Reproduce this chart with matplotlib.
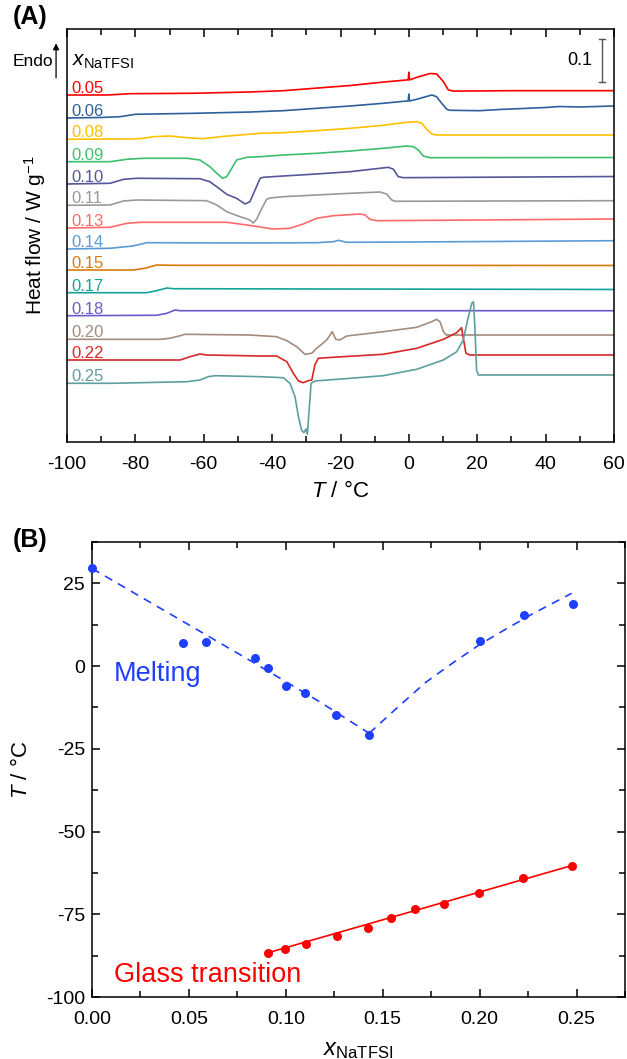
import matplotlib
matplotlib.use('Agg')
import matplotlib.pyplot as plt
from matplotlib.ticker import MultipleLocator

plt.rcParams['font.family'] = ['Liberation Sans', 'DejaVu Sans']
plt.rcParams['mathtext.fontset'] = 'custom'
plt.rcParams['mathtext.rm'] = 'Liberation Sans'
plt.rcParams['mathtext.it'] = 'Liberation Sans:italic'
plt.rcParams['mathtext.bf'] = 'Liberation Sans:bold'
plt.rcParams['axes.unicode_minus'] = False

# ---------------- Panel A: DSC traces (T in °C, heat flow in W/g, offset) ----------------
compositions = ['0.05', '0.06', '0.08', '0.09', '0.10', '0.11', '0.13',
                '0.14', '0.15', '0.17', '0.18', '0.20', '0.22', '0.25']
trace_colors = ['#ff0000', '#2e6099', '#ffc000', '#3dbf6e', '#56569a', '#999999', '#ff6b6b',
                '#5b9bd5', '#d97a0c', '#14a39b', '#6a5acd', '#a38b7d', '#d62828', '#5f9e9e']

T_005 = [-100, -88, -81.6, -63, -46.5, -36.7, -27, -17.2, -7.5, -0.6, -0.2, 0, 0.2, 2.3, 6.2, 8.1, 10.1, 11.5, 13, 30, 60]
H_005 = [0.807, 0.807, 0.810, 0.811, 0.814, 0.817, 0.823, 0.829, 0.837, 0.842, 0.842, 0.860, 0.842, 0.848, 0.857, 0.856, 0.838, 0.819, 0.816, 0.817, 0.817]

T_006 = [-100, -90, -84.5, -80, -63, -46.5, -36.7, -27, -17.2, -7.5, -0.6, -0.2, 0, 0.2, 2.3, 6.7, 8.1, 9.6, 11.1, 12, 20.8, 26.6, 40, 44, 50, 60]
H_006 = [0.7535, 0.7547, 0.7565, 0.7621, 0.7644, 0.7674, 0.7705, 0.7760, 0.7814, 0.7877, 0.7930, 0.7930, 0.8093, 0.7930, 0.7970, 0.8070, 0.8030, 0.7877, 0.7737, 0.7714, 0.7705, 0.7733, 0.7779, 0.7802, 0.7791, 0.7814]

T_008 = [-100, -80.7, -77.7, -74.8, -69.9, -64.9, -60.2, -55.2, -43.5, -36.7, -27, -17.2, -7.5, -0.6, 2.3, 3.8, 5.2, 6.7, 8.1, 60]
H_008 = [0.7040, 0.7047, 0.7063, 0.7100, 0.7116, 0.7077, 0.7053, 0.7100, 0.7179, 0.7193, 0.7240, 0.7295, 0.7365, 0.7435, 0.7449, 0.7412, 0.7272, 0.7163, 0.7140, 0.7140]

T_009 = [-100, -87.4, -82.5, -77.7, -65, -61.1, -58.2, -56.2, -54.5, -53.3, -51.8, -50.4, -47.4, -43.5, -36.7, -27, -17.2, -7.5, -0.6, 1.3, 2.8, 4.2, 6.2, 60]
H_009 = [0.6519, 0.6519, 0.6574, 0.6598, 0.6598, 0.6558, 0.6402, 0.6249, 0.6133, 0.6170, 0.6365, 0.6558, 0.6621, 0.6635, 0.6674, 0.6714, 0.6767, 0.6830, 0.6884, 0.6867, 0.6791, 0.6651, 0.6612, 0.6616]

T_010 = [-100, -87.4, -83.5, -79.6, -61.1, -58.2, -55.2, -53.3, -50.4, -47.9, -46.5, -45, -43.5, -42.6, -36.7, -27, -17.2, -6, -4.5, -3.1, -1.6, 60]
H_010 = [0.6000, 0.6016, 0.6109, 0.6133, 0.6123, 0.6053, 0.5877, 0.5760, 0.5667, 0.5535, 0.5588, 0.5860, 0.6133, 0.6156, 0.6186, 0.6233, 0.6286, 0.6388, 0.6342, 0.6170, 0.6147, 0.6174]

T_011 = [-100, -87.4, -83.5, -79.6, -59.2, -56.2, -53.3, -49.4, -46.5, -45.5, -44.5, -43, -41.6, -40.6, -36.7, -27, -17.2, -8.5, -6.5, -5, -4.1, 60]
H_011 = [0.5505, 0.5512, 0.5605, 0.5628, 0.5612, 0.5512, 0.5356, 0.5240, 0.5163, 0.5093, 0.5186, 0.5435, 0.5644, 0.5674, 0.5705, 0.5744, 0.5784, 0.5814, 0.5767, 0.5628, 0.5598, 0.5612]

T_013 = [-100, -87.4, -82.5, -78.5, -53.3, -47.4, -43.5, -39.7, -34.8, -30.9, -27, -22.1, -14.3, -12.8, -11.4, -9.4, 0, 60]
H_013 = [0.4977, 0.4993, 0.5086, 0.5109, 0.5109, 0.5047, 0.5000, 0.4953, 0.4970, 0.5070, 0.5202, 0.5263, 0.5302, 0.5279, 0.5179, 0.5147, 0.5151, 0.5186]

T_014 = [-100, -87.4, -80.7, -76.7, -46.5, -27, -22.1, -20.6, -18.2, 0, 60]
H_014 = [0.4488, 0.4505, 0.4558, 0.4635, 0.4628, 0.4635, 0.4658, 0.4691, 0.4644, 0.4651, 0.4681]

T_015 = [-100, -80.6, -77.2, -73.8, -68.9, 60]
H_015 = [0.4000, 0.4000, 0.4040, 0.4116, 0.4109, 0.4105]

T_017 = [-100, -76.7, -73.8, -70.8, -68.9, -20, 60]
H_017 = [0.3472, 0.3472, 0.3519, 0.3581, 0.3565, 0.3558, 0.3547]

T_018 = [-100, -73.8, -70.8, -68.4, -66.9, 60]
H_018 = [0.2937, 0.2947, 0.2993, 0.3070, 0.3053, 0.3053]

T_020 = [-100, -72.8, -69.9, -66.9, -65.5, -46.5, -38.7, -35.7, -32.8, -30.4, -28.4, -27, -25.5, -23.9, -22.4, -21.4, -20.2, -18.2, -7.5, 2.3, 6.7, 8.1, 9.1, 10.1, 11, 60]
H_020 = [0.2388, 0.2388, 0.2412, 0.2472, 0.2505, 0.2488, 0.2449, 0.2356, 0.2216, 0.2040, 0.2063, 0.2179, 0.2272, 0.2388, 0.2565, 0.2388, 0.2372, 0.2465, 0.2565, 0.2667, 0.2798, 0.2853, 0.2798, 0.2565, 0.2488, 0.2488]

T_022 = [-100, -66.9, -64, -61.1, -59.2, -43.5, -38.7, -35.7, -33.8, -32.3, -30.9, -29.4, -28.4, -27.5, -26.5, -22.1, -7.5, 2.3, 10.1, 14, 15.4, 16.1, 16.7, 17.9, 60]
H_022 = [0.1907, 0.1907, 0.1984, 0.2047, 0.2023, 0.2000, 0.2000, 0.1867, 0.1598, 0.1419, 0.1379, 0.1426, 0.1442, 0.1791, 0.1947, 0.1970, 0.2040, 0.2179, 0.2388, 0.2542, 0.2658, 0.2333, 0.2063, 0.2023, 0.2023]

T_025 = [-100, -87, -65, -61.1, -58.7, -56.7, -43.5, -36.7, -34.8, -33.3, -32.3, -31.4, -30.7, -30.1, -29.7, -29.1, -28.6, -27.5, -17.2, -7.5, 2.3, 10.1, 14, 15.9, 17.4, 18.4, 18.9, 19.3, 19.8, 20.3, 60]
H_025 = [0.1365, 0.1365, 0.1402, 0.1442, 0.1519, 0.1542, 0.1519, 0.1495, 0.1365, 0.1053, 0.0588, 0.0279, 0.0216, 0.0302, 0.0179, 0.0821, 0.1365, 0.1419, 0.1481, 0.1542, 0.1691, 0.1907, 0.2100, 0.2372, 0.2914, 0.3226, 0.3263, 0.2681, 0.1674, 0.1558, 0.1558]

traces_T = [T_005, T_006, T_008, T_009, T_010, T_011, T_013, T_014, T_015, T_017, T_018, T_020, T_022, T_025]
traces_H = [H_005, H_006, H_008, H_009, H_010, H_011, H_013, H_014, H_015, H_017, H_018, H_020, H_022, H_025]

scale_bar_value = 0.1  # W/g

# ---------------- Panel B: phase diagram ----------------
x_melt = [0.0, 0.047, 0.0587, 0.084, 0.091, 0.100, 0.110, 0.126, 0.143, 0.200, 0.223, 0.248]
T_melt = [29.5, 7.1, 7.2, 2.3, -0.5, -6.1, -8.2, -14.8, -20.8, 7.7, 15.3, 18.8]

x_melt_guide_left = [0.0, 0.083, 0.1175, 0.143]
T_melt_guide_left = [29.5, 1.2, -10.8, -20.3]
x_melt_guide_right = [0.143, 0.158, 0.172, 0.186, 0.200, 0.213, 0.227, 0.2475]
T_melt_guide_right = [-20.3, -12.3, -5.0, 0.9, 6.5, 11.0, 15.7, 22.0]

x_glass = [0.091, 0.0996, 0.1103, 0.1262, 0.1424, 0.1541, 0.1669, 0.1817, 0.1995, 0.2224, 0.2476]
T_glass = [-86.8, -85.5, -84.0, -81.7, -79.1, -76.2, -73.4, -71.9, -68.6, -64.1, -60.4]
x_glass_fit = [0.091, 0.248]
T_glass_fit = [-86.6, -60.2]

melt_color = '#1f3fff'
glass_color = '#ff0000'

fig = plt.figure(figsize=(6.27, 10.59), dpi=100)

# ---- Panel A ----
axA = fig.add_axes([67 / 627, 1 - 442 / 1059, 547 / 627, 413 / 1059])
for T, H, lab, c in zip(traces_T, traces_H, compositions, trace_colors):
    axA.plot(T, H, color=c, lw=1.2, solid_joinstyle='round')
    axA.text(-98.6, H[0] + 0.005, lab, color=c, fontsize=12, ha='left', va='baseline')

axA.set_xlim(-100, 60)
axA.set_ylim(0, 413 / 430)
axA.xaxis.set_major_locator(MultipleLocator(20))
axA.xaxis.set_minor_locator(MultipleLocator(10))
axA.set_yticks([])
axA.tick_params(axis='x', which='both', direction='in', top=True, bottom=True,
                labelsize=14, width=1.1, pad=10)
axA.tick_params(axis='x', which='major', length=6)
axA.tick_params(axis='x', which='minor', length=4)
for s in axA.spines.values():
    s.set_linewidth(1.1)
axA.set_xlabel(r'$T$ / °C', fontsize=16, labelpad=6)
axA.set_ylabel(r'Heat flow / W g$^{-1}$', fontsize=15, labelpad=14)

# scale bar
sb_T = 56.4
sb_y0 = 0.837
axA.plot([sb_T, sb_T], [sb_y0, sb_y0 + scale_bar_value], color='#555555', lw=1.0)
axA.plot([sb_T - 0.9, sb_T + 0.9], [sb_y0, sb_y0], color='#555555', lw=1.0)
axA.plot([sb_T - 0.9, sb_T + 0.9], [sb_y0 + scale_bar_value, sb_y0 + scale_bar_value], color='#555555', lw=1.0)
axA.text(sb_T - 2.7, sb_y0 + scale_bar_value / 2, '0.1', fontsize=13, ha='right', va='center')

# header and endo arrow
axA.text(0.009, 0.921, r'$x_{\mathrm{NaTFSI}}$', transform=axA.transAxes, fontsize=15,
         ha='left', va='center')
axA.annotate('', xy=(-0.020, 0.972), xytext=(-0.020, 0.875), xycoords='axes fraction',
             textcoords='axes fraction',
             arrowprops=dict(arrowstyle='-|>', color='black', lw=0.9, mutation_scale=9),
             annotation_clip=False)
axA.text(-0.026, 0.921, 'Endo', transform=axA.transAxes, fontsize=12.5, ha='right', va='center')

fig.text(13 / 627, 1 - 5 / 1059, '(A)', fontsize=18, fontweight='bold', ha='left', va='top')

# ---- Panel B ----
axB = fig.add_axes([92 / 627, 1 - 997 / 1059, 533 / 627, 455 / 1059])
axB.plot(x_melt_guide_left, T_melt_guide_left, ls=(0, (5, 4)), color=melt_color, lw=1.2)
axB.plot(x_melt_guide_right, T_melt_guide_right, ls=(0, (5, 4)), color=melt_color, lw=1.2)
axB.plot(x_melt, T_melt, 'o', color=melt_color, ms=6.5, mec='none', clip_on=False, zorder=5)
axB.plot(x_glass_fit, T_glass_fit, '-', color=glass_color, lw=1.2)
axB.plot(x_glass, T_glass, 'o', color=glass_color, ms=6.5, mec='none', zorder=5)

axB.set_xlim(0, 0.275)
axB.set_ylim(-100, 37.5)
axB.xaxis.set_major_locator(MultipleLocator(0.05))
axB.xaxis.set_minor_locator(MultipleLocator(0.025))
axB.yaxis.set_major_locator(MultipleLocator(25))
axB.yaxis.set_minor_locator(MultipleLocator(12.5))
axB.xaxis.set_major_formatter(plt.FuncFormatter(lambda v, p: f'{v:.2f}'))
axB.tick_params(axis='both', which='both', direction='in', top=True, right=True,
                labelsize=14, width=1.1)
axB.tick_params(axis='x', which='both', pad=10)
axB.tick_params(axis='y', which='both', pad=5)
axB.tick_params(axis='both', which='major', length=6)
axB.tick_params(axis='both', which='minor', length=4)
for s in axB.spines.values():
    s.set_linewidth(1.1)
axB.set_xlabel(r'$x_{\mathrm{NaTFSI}}$', fontsize=17, labelpad=8)
axB.set_ylabel(r'$T$ / °C', fontsize=16, labelpad=10)

axB.text(0.0113, -4.5, 'Melting', color=melt_color, fontsize=19.5, ha='left', va='baseline')
axB.text(0.0113, -95.6, 'Glass transition', color=glass_color, fontsize=19.5, ha='left', va='baseline')

fig.text(13 / 627, 1 - 528 / 1059, '(B)', fontsize=18, fontweight='bold', ha='left', va='top')

fig.savefig('out.png', dpi=100)
